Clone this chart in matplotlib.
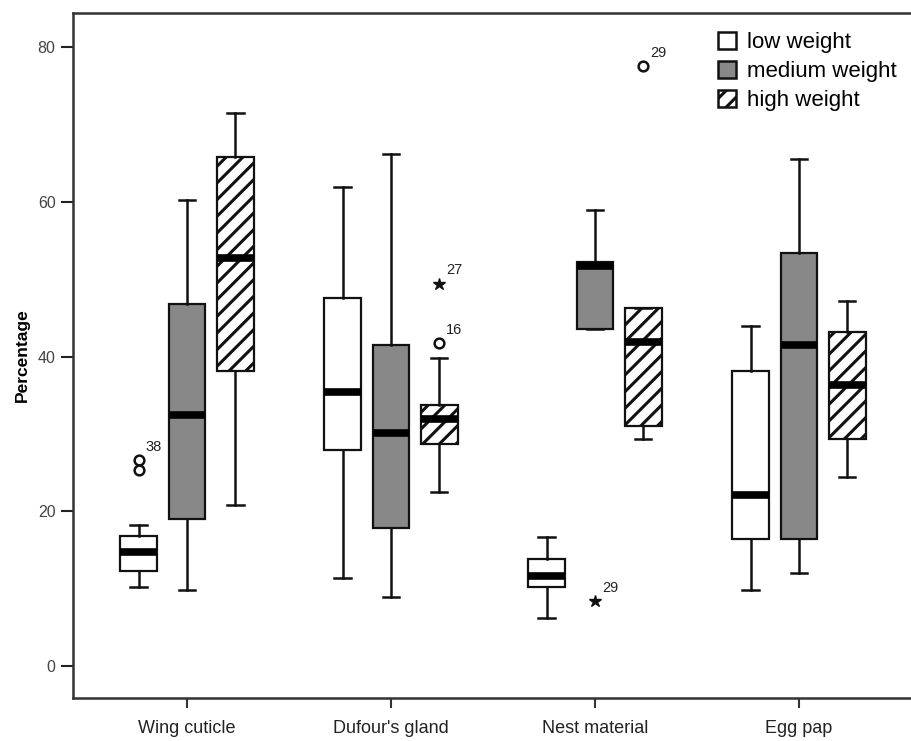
import numpy as np
import matplotlib
matplotlib.use('Agg')
import matplotlib.pyplot as plt
from matplotlib.patches import Patch

plt.rcParams['font.family'] = ['Liberation Sans', 'DejaVu Sans']
plt.rcParams['hatch.linewidth'] = 2.2

# Data
categories = ['Wing cuticle', "Dufour's gland", 'Nest material', 'Egg pap']
groups = ['low weight', 'medium weight', 'high weight']

# rows: categories, columns: low / medium / high
whislo = [[10.3, 9.8, 20.8],
          [11.4, 8.9, 22.5],
          [6.3, 43.6, 29.3],
          [9.8, 12.0, 24.5]]
q1 = [[12.3, 19.0, 38.2],
      [28.0, 17.9, 28.7],
      [10.2, 43.6, 31.1],
      [16.5, 16.5, 29.3]]
med = [[14.7, 32.5, 52.8],
       [35.4, 30.1, 31.9],
       [11.6, 51.7, 41.9],
       [22.1, 41.5, 36.4]]
q3 = [[16.8, 46.8, 65.8],
      [47.6, 41.5, 33.7],
      [13.9, 52.2, 46.3],
      [38.2, 53.4, 43.2]]
whishi = [[18.3, 60.3, 71.5],
          [61.9, 66.2, 39.8],
          [16.7, 59.0, 46.3],
          [44.0, 65.5, 47.2]]

# outliers: category, group, value, marker, case label
out_cat = [0, 0, 1, 1, 2, 2]
out_grp = [0, 0, 2, 2, 1, 2]
out_val = [26.6, 25.3, 41.7, 49.4, 8.4, 77.5]
out_mark = ['o', 'o', 'o', '*', '*', 'o']
out_lab = ['38', '', '16', '27', '29', '29']

fills = ['white', '#888888', 'white']
hatches = [None, None, '//']
offsets = [-0.237, 0.0, 0.237]
box_w = 0.18

fig = plt.figure(figsize=(9.12, 7.41), dpi=100)
ax = fig.add_axes([0.080, 0.058, 0.920, 0.9245])

for g in range(3):
    stats = []
    for c in range(len(categories)):
        stats.append({'whislo': whislo[c][g], 'q1': q1[c][g], 'med': med[c][g],
                      'q3': q3[c][g], 'whishi': whishi[c][g], 'fliers': []})
    pos = np.arange(len(categories)) + offsets[g]
    res = ax.bxp(stats, positions=pos, widths=box_w, patch_artist=True,
                 showfliers=False, manage_ticks=False,
                 boxprops=dict(facecolor=fills[g], edgecolor='#111111', linewidth=1.6),
                 medianprops=dict(color='black', linewidth=5.5, solid_capstyle='butt'),
                 whiskerprops=dict(color='#111111', linewidth=1.8),
                 capprops=dict(color='#111111', linewidth=1.8),
                 capwidths=0.08)
    if hatches[g]:
        for b in res['boxes']:
            b.set_hatch(hatches[g])

for c, g, v, m, lab in zip(out_cat, out_grp, out_val, out_mark, out_lab):
    x = c + offsets[g]
    if m == 'o':
        ax.plot(x, v, 'o', mfc='none', mec='#111111', ms=7, mew=1.8)
    else:
        ax.plot(x, v, '*', color='#111111', ms=9)
    if lab:
        ax.annotate(lab, (x, v), xytext=(5, 7), textcoords='offset points',
                    fontsize=10.5, color='#222222')

ax.set_xlim(-0.559, 3.554)
ax.set_ylim(-4.1, 84.4)
ax.set_yticks([0, 20, 40, 60, 80])
ax.set_xticks(range(len(categories)))
ax.set_xticklabels(categories, fontsize=13, color='#222222')
ax.tick_params(axis='y', labelsize=11.5, labelcolor='#444444', length=8.5, width=1.5,
               color='#222222', pad=4)
ax.tick_params(axis='x', length=7, width=1.5, color='#333333', pad=9)
ax.set_ylabel('Percentage', fontsize=12.5, fontweight='bold', labelpad=6)

for s in ['left', 'bottom', 'top']:
    ax.spines[s].set_linewidth(1.8)
    ax.spines[s].set_color('#333333')
ax.spines['right'].set_visible(False)

handles = [Patch(facecolor=fills[g], edgecolor='#111111', linewidth=1.8,
                 hatch=hatches[g]) for g in range(3)]
leg = ax.legend(handles, groups, loc='upper right', bbox_to_anchor=(1.0, 0.995),
                frameon=False, fontsize=16, handlelength=0.8, handleheight=0.8,
                handletextpad=0.5, labelspacing=0.35, borderaxespad=0.3)

fig.savefig('out.png', dpi=100)
